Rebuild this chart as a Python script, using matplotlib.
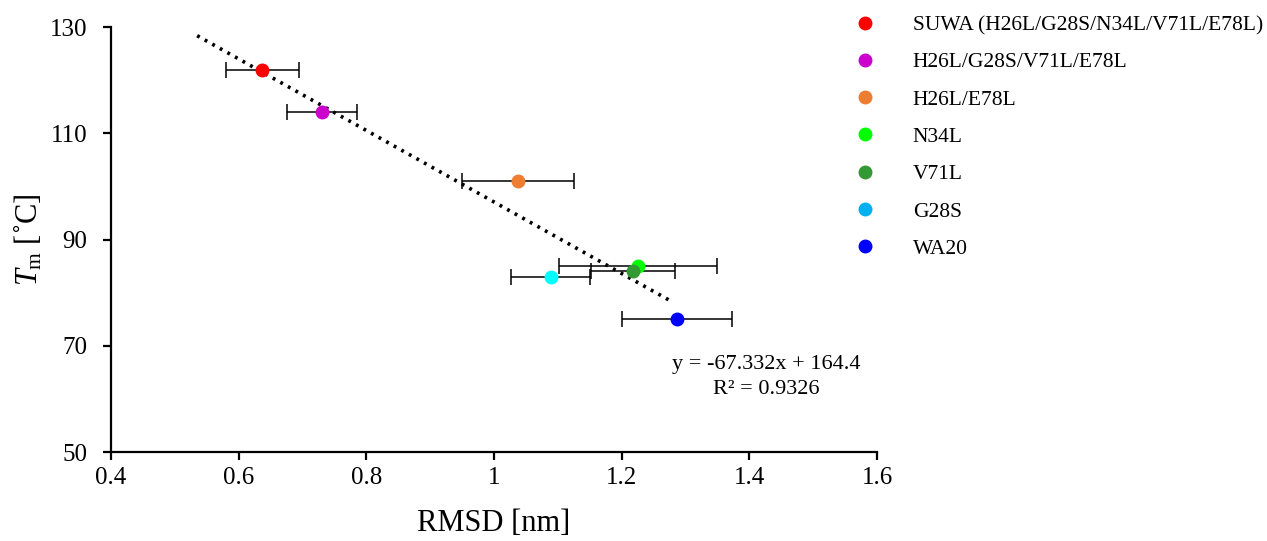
import matplotlib.pyplot as plt
from matplotlib.lines import Line2D

plt.rcParams['font.family'] = ['Liberation Serif', 'DejaVu Serif']
plt.rcParams['mathtext.fontset'] = 'custom'
plt.rcParams['mathtext.it'] = 'Liberation Serif:italic'
plt.rcParams['mathtext.rm'] = 'Liberation Serif'

# data
labels = ['SUWA (H26L/G28S/N34L/V71L/E78L)', 'H26L/G28S/V71L/E78L', 'H26L/E78L',
          'N34L', 'V71L', 'G28S', 'WA20']
rmsd = [0.637, 0.731, 1.038, 1.226, 1.218, 1.089, 1.287]
rmsd_err = [0.057, 0.055, 0.088, 0.124, 0.066, 0.062, 0.086]
tm = [122, 114, 101, 85, 84, 83, 75]
point_colors = ['#FF0000', '#CC00CC', '#ED7D31', '#00FF00', '#339933', '#00FFFF', '#0000FF']
legend_colors = ['#FF0000', '#CC00CC', '#ED7D31', '#00FF00', '#339933', '#00B0F0', '#0000FF']

slope, intercept, r2 = -67.332, 164.4, 0.9326
trend_x = [0.535, 1.28]

fig = plt.figure(figsize=(12.67, 5.41), dpi=100)
ax = fig.add_axes([0.0876, 0.1645, 0.6046, 0.7855])

# trendline
ax.plot(trend_x, [slope * x + intercept for x in trend_x], color='black',
        linestyle=(0, (0.8, 1.6)), linewidth=2.6, zorder=1)

for x, xe, y, c in zip(rmsd, rmsd_err, tm, point_colors):
    ax.errorbar(x, y, xerr=xe, fmt='none', ecolor='black', elinewidth=1.1,
                capsize=6, capthick=1.1, zorder=2)
    ax.plot(x, y, 'o', color=c, markersize=9, zorder=3)

ax.set_xlim(0.4, 1.6)
ax.set_ylim(50, 130)
ax.set_xticks([0.4, 0.6, 0.8, 1.0, 1.2, 1.4, 1.6])
ax.set_xticklabels(['0.4', '0.6', '0.8', '1', '1.2', '1.4', '1.6'])
ax.set_yticks([50, 70, 90, 110, 130])
ax.spines['top'].set_visible(False)
ax.spines['right'].set_visible(False)
ax.spines['left'].set_linewidth(1.6)
ax.spines['bottom'].set_linewidth(1.6)
ax.tick_params(direction='out', length=6, width=1.6, labelsize=18)
ax.tick_params(axis='x', pad=5)
ax.tick_params(axis='y', pad=11)

ax.set_xlabel('RMSD [nm]', fontsize=22, labelpad=14)
ax.set_ylabel(r'$T_{\mathrm{m}}$ [˚C]', fontsize=22, labelpad=4)

ax.text(1.426, 66.4, f'y = {slope}x + {intercept}', fontsize=16, ha='center', va='center')
ax.text(1.426, 61.7, f'R² = {r2}', fontsize=16, ha='center', va='center')

handles = [Line2D([], [], linestyle='none', marker='o', markersize=9, color=c)
           for c in legend_colors]
fig.legend(handles, labels, loc='upper left', bbox_to_anchor=(0.655, 1.008),
           frameon=False, fontsize=15.5, handletextpad=1.45, labelspacing=0.8,
           handlelength=1.5)

fig.savefig('out.png', dpi=100)
